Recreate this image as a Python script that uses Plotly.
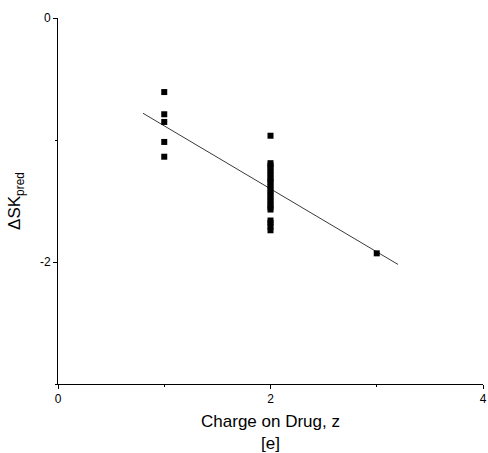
import plotly.graph_objects as go

# data
x_z1 = [1, 1, 1, 1, 1]
y_z1 = [-0.607, -0.789, -0.852, -1.016, -1.137]
x_z2 = [2] * 22
y_z2 = [-0.965, -1.19, -1.21, -1.23, -1.26, -1.28, -1.31, -1.33, -1.35, -1.38,
        -1.40, -1.43, -1.45, -1.48, -1.50, -1.53, -1.55, -1.57, -1.66, -1.68, -1.71, -1.74]
x_z3 = [3]
y_z3 = [-1.929]
fit_x = [0.8, 3.2]
fit_y = [-0.781, -2.02]

xs = x_z1 + x_z2 + x_z3
ys = y_z1 + y_z2 + y_z3

fig = go.Figure()
fig.add_trace(go.Scatter(x=fit_x, y=fit_y, mode="lines",
                         line=dict(color="#3a3a3a", width=1), showlegend=False))
fig.add_trace(go.Scatter(x=xs, y=ys, mode="markers",
                         marker=dict(symbol="square", size=6, color="black"),
                         showlegend=False))

font = "Liberation Sans, Arial, sans-serif"
fig.update_layout(
    width=488, height=453,
    margin=dict(l=58, r=5, t=18, b=69),
    plot_bgcolor="white", paper_bgcolor="white",
    font=dict(family=font, color="black", size=12),
    xaxis=dict(range=[0, 4], tickmode="array", tickvals=[0, 2, 4], ticktext=["0", "2", "4"],
               tickfont=dict(color="black", size=12), automargin=False,
               ticks="outside", ticklen=4, tickwidth=1, tickcolor="black",
               minor=dict(tickmode="array", tickvals=[1, 3], ticks="outside", ticklen=2, tickcolor="black"),
               showline=True, linecolor="black", linewidth=1, showgrid=False, zeroline=False,
               title=dict(text="Charge on Drug, z<br>[e]", font=dict(size=17, color="black"), standoff=16)),
    yaxis=dict(range=[-3, 0], tickmode="array", tickvals=[0, -2], ticktext=["0", "-2"],
               tickfont=dict(color="black", size=12), automargin=False,
               ticks="outside", ticklen=4, tickwidth=1, tickcolor="black",
               minor=dict(tickmode="array", tickvals=[-1, -3], ticks="outside", ticklen=2, tickcolor="black"),
               showline=True, linecolor="black", linewidth=1, showgrid=False, zeroline=False,
               title=dict(text="ΔSK<sub>pred</sub>", font=dict(size=17, color="black"), standoff=14)),
)
fig.write_html("out.html", config={"displayModeBar": False},
               post_script="document.body.style.margin='0';")
